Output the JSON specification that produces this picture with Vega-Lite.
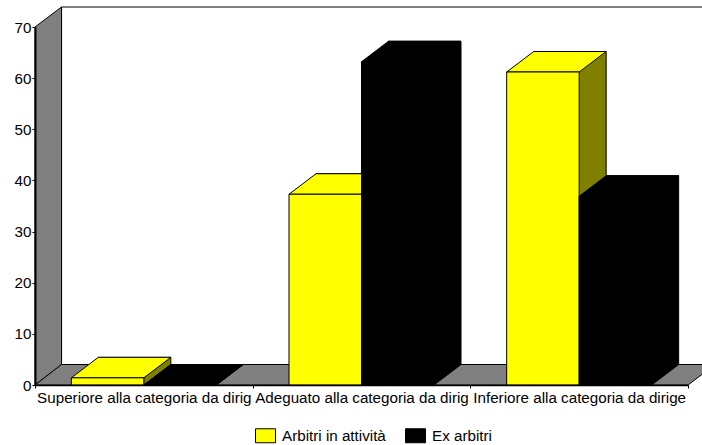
{
"$schema":"https://vega.github.io/schema/vega-lite/v6.json",
"width":653,"height":358,"autosize":"none",
"padding":{"left":35,"top":27,"right":14,"bottom":60},
"background":"white",
"config":{"view":{"stroke":null},"font":"Liberation Sans"},
"datasets":{"bars":[
{"categoria":"Superiore alla categoria da dirig","serie":"Arbitri in attività","valore":1.4},
{"categoria":"Superiore alla categoria da dirig","serie":"Ex arbitri","valore":0},
{"categoria":"Adeguato alla categoria da dirig","serie":"Arbitri in attività","valore":37.3},
{"categoria":"Adeguato alla categoria da dirig","serie":"Ex arbitri","valore":63.2},
{"categoria":"Inferiore alla categoria da dirige","serie":"Arbitri in attività","valore":61.2},
{"categoria":"Inferiore alla categoria da dirige","serie":"Ex arbitri","valore":36.9}
]},
"data":{"name":"bars"},
"encoding":{
"x":{"field":"categoria","type":"nominal","sort":null,"title":null,
 "scale":{"paddingInner":0,"paddingOuter":0},
 "axis":{"tickBand":"extent","labelAngle":0,"labelLimit":400,"labelOverlap":false,"labelFontSize":15.2,"labelColor":"black","labelPadding":2,"tickSize":3,"tickColor":"black","domainColor":"black","domainWidth":1.5,"zindex":1}},
"y":{"field":"valore","type":"quantitative","title":null,
 "scale":{"domain":[0,70],"nice":false},
 "axis":{"values":[0,10,20,30,40,50,60,70],"grid":false,"labelFontSize":15.2,"labelColor":"black","labelPadding":1,"tickSize":3,"tickColor":"black","domainColor":"black","domainWidth":2,"zindex":1}}
},
"layer":[
{"transform":[{"filter":"datum.serie==='Ex arbitri' && datum.valore===0"}],
 "mark":{"type":"point","filled":true,"opacity":1,"size":4,"fill":"white","stroke":"black","strokeWidth":1,"shape":"M-82.3,-20.5 L-82.3,-378 L560,-378 L560,-20.5 Z"},
 "encoding":{"y":{"datum":0,"type":"quantitative"}}},
{"transform":[{"filter":"datum.serie==='Ex arbitri' && datum.valore===0"}],
 "mark":{"type":"point","filled":true,"opacity":1,"size":4,"fill":"#808080","stroke":"black","strokeWidth":1,"shape":"M-108.8,0 L-82.3,-20.5 L-82.3,-378 L-108.8,-358 Z"},
 "encoding":{"y":{"datum":0,"type":"quantitative"}}},
{"transform":[{"filter":"datum.serie==='Ex arbitri' && datum.valore===0"}],
 "mark":{"type":"point","filled":true,"opacity":1,"size":4,"fill":"#808080","stroke":"black","strokeWidth":1,"shape":"M-108.8,0 L-82.3,-20.5 L560,-20.5 L560,-12 L544.2,0 Z"},
 "encoding":{"y":{"datum":0,"type":"quantitative"}}},

{"transform":[{"filter":"datum.serie==='Arbitri in attività'"}],
 "mark":{"type":"bar","width":72.5,"xOffset":-9.25,"yOffset":-20.5,"fill":"#808000","stroke":"black","strokeWidth":1}},
{"transform":[{"filter":"datum.serie==='Arbitri in attività'"}],
 "mark":{"type":"point","filled":true,"opacity":1,"size":4,"fill":"#808000","stroke":"black","strokeWidth":1,"shape":"M0,-21 L0,0 L27,-20.5 L27,-21"},
 "encoding":{"y":{"datum":0,"type":"quantitative"}}},
{"transform":[{"filter":"datum.serie==='Arbitri in attività'"}],
 "mark":{"type":"point","filled":true,"opacity":1,"size":4,"fill":"#ffff00","stroke":"black","strokeWidth":1,"shape":"M-72.5,0 L-45.5,-20.5 L27,-20.5 L0,0 Z"}},
{"transform":[{"filter":"datum.serie==='Arbitri in attività'"}],
 "mark":{"type":"bar","width":72.5,"xOffset":-36.25,"stroke":"black","strokeWidth":1},
 "encoding":{"color":{"field":"serie","type":"nominal","scale":{"domain":["Arbitri in attività","Ex arbitri"],"range":["#ffff00","black"]},
  "title":null,"legend":{"orient":"none","legendX":220,"legendY":398,"direction":"horizontal","columns":2,"columnPadding":17,"labelOffset":6,"labelFontSize":15.2,"labelColor":"black","symbolType":"M-1,-0.7 L1,-0.7 L1,0.7 L-1,0.7 Z","symbolSize":400,"symbolStrokeColor":"black","symbolStrokeWidth":1,"symbolOpacity":1}}}},

{"transform":[{"filter":"datum.serie==='Ex arbitri'"}],
 "mark":{"type":"bar","width":72.5,"xOffset":63.25,"yOffset":-20.5,"stroke":"black","strokeWidth":1,"fill":"black"}},
{"transform":[{"filter":"datum.serie==='Ex arbitri'"}],
 "mark":{"type":"point","filled":true,"opacity":1,"size":4,"fill":"black","stroke":"black","strokeWidth":1,"shape":"M72.5,-21 L72.5,0 L99.5,-20.5 L99.5,-21"},
 "encoding":{"y":{"datum":0,"type":"quantitative"}}},
{"transform":[{"filter":"datum.serie==='Ex arbitri'"}],
 "mark":{"type":"point","filled":true,"opacity":1,"size":4,"fill":"black","stroke":"black","strokeWidth":1,"shape":"M0,0 L27,-20.5 L99.5,-20.5 L72.5,0 Z"}},
{"transform":[{"filter":"datum.serie==='Ex arbitri'"}],
 "mark":{"type":"bar","width":72.5,"xOffset":36.25,"fill":"black","stroke":"black","strokeWidth":1}}
]
}
